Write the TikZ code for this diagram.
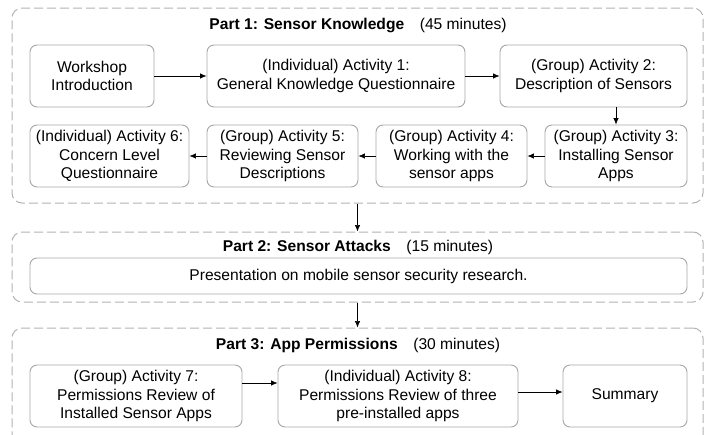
\documentclass[tikz,border=0pt]{standalone}
\usepackage{fontspec}
\setmainfont{Liberation Sans}
\usetikzlibrary{arrows.meta}
\begin{document}
\begin{tikzpicture}[x=1pt,y=-1pt,
  box/.style={draw=black!35, line width=0.9pt, rounded corners=7pt, align=center, inner sep=0pt,
    font=\fontsize{15.6}{18.3}\selectfont},
  part/.style={draw=black!30, line width=1pt, dash pattern=on 9pt off 4pt, rounded corners=10pt},
  ttl/.style={font=\fontsize{15.6}{18.3}\selectfont, inner sep=0pt},
  arr/.style={-{Latex[length=6.5pt,width=5.5pt]}, line width=0.7pt}]
\useasboundingbox (0,0) rectangle (706,434);
% containers
\node[part, minimum width=691pt, minimum height=195pt] (p1) at (357.5,105.5) {};
\node[part, minimum width=691pt, minimum height=70pt] (p2) at (357.5,267) {};
\node[part, minimum width=691pt, minimum height=122pt] (p3) at (357.5,389) {};
% titles
\node[ttl] (t1) at (358,25) {\textbf{Part 1: Sensor Knowledge}\quad(45 minutes)};
\node[ttl] (t2) at (358,247) {\textbf{Part 2: Sensor Attacks}\quad(15 minutes)};
\node[ttl] (t3) at (358,345) {\textbf{Part 3: App Permissions}\quad(30 minutes)};
% part 1
\node[box, minimum width=124pt, minimum height=62pt] (intro) at (92,76) {Workshop\\Introduction};
\node[box, minimum width=258pt, minimum height=62pt] (a1) at (336,76) {(Individual) Activity 1:\\General Knowledge Questionnaire};
\node[box, minimum width=187pt, minimum height=62pt] (a2) at (593.5,76) {(Group) Activity 2:\\Description of Sensors};
\node[box, minimum width=142pt, minimum height=62pt] (a3) at (616,156) {(Group) Activity 3:\\Installing Sensor\\Apps};
\node[box, minimum width=151pt, minimum height=62pt] (a4) at (451.5,156) {(Group) Activity 4:\\Working with the\\sensor apps};
\node[box, minimum width=151pt, minimum height=62pt] (a5) at (282.5,156) {(Group) Activity 5:\\Reviewing Sensor\\Descriptions};
\node[box, minimum width=159pt, minimum height=62pt] (a6) at (109.5,156) {(Individual) Activity 6:\\Concern Level\\Questionnaire};
% part 2
\node[box, minimum width=657pt, minimum height=36pt] (pres) at (358.5,276) {Presentation on mobile sensor security research.};
% part 3
\node[box, minimum width=212pt, minimum height=62pt] (a7) at (136,396) {(Group) Activity 7:\\Permissions Review of\\Installed Sensor Apps};
\node[box, minimum width=240pt, minimum height=62pt] (a8) at (398,396) {(Individual) Activity 8:\\Permissions Review of three\\pre-installed apps};
\node[box, minimum width=124pt, minimum height=62pt] (sum) at (625,396) {Summary};
% arrows
\draw[arr] (intro) -- (a1);
\draw[arr] (a1) -- (a2);
\draw[arr] (a3.north |- a2.south) -- (a3.north);
\draw[arr] (a3) -- (a4);
\draw[arr] (a4) -- (a5);
\draw[arr] (a5) -- (a6);
\draw[arr] (p1.south) -- (p2.north);
\draw[arr] (p2.south) -- (p3.north);
\draw[arr] ([yshift=13pt]a7.east) -- ([yshift=13pt]a8.west);
\draw[arr] ([yshift=4pt]a8.east) -- ([yshift=4pt]sum.west);
\end{tikzpicture}
\end{document}
